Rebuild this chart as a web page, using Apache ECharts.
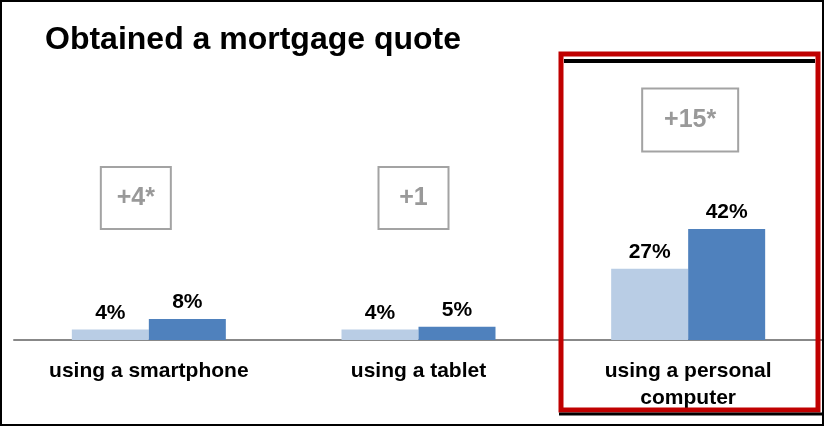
<!DOCTYPE html>
<html>
<head>
<meta charset="utf-8">
<script src="https://cdn.jsdelivr.net/npm/echarts@6/dist/echarts.min.js"></script>
<style>
  html, body { margin: 0; padding: 0; background: #fff; }
  #main { width: 825px; height: 429px; }
</style>
</head>
<body>
<div id="main"></div>
<script>
var categories = ['using a smartphone', 'using a tablet', 'using a personal\ncomputer'];
var before = [4, 4, 27];
var after = [8, 5, 42];
var diffs = ['+4*', '+1', '+15*'];
// height (in % units) where the difference boxes sit
var diffLevel = [53.8, 53.8, 83.3];

var chart = echarts.init(document.getElementById('main'));

var font = '"Liberation Sans", Arial, sans-serif';

var option = {
    animation: false,
    backgroundColor: '#fff',
    title: {
        text: 'Obtained a mortgage quote',
        left: 40,
        top: 19,
        textStyle: { fontFamily: font, fontSize: 32, fontWeight: 'bold', color: '#000' }
    },
    grid: { left: 14, right: 2, top: 76, bottom: 89 },
    xAxis: {
        type: 'category',
        data: categories,
        axisTick: { show: false },
        axisLine: { lineStyle: { color: '#888', width: 2 } },
        axisLabel: {
            fontFamily: font, fontSize: 21, fontWeight: 'bold', color: '#000',
            margin: 18, lineHeight: 27, interval: 0
        }
    },
    yAxis: {
        type: 'value', min: 0, max: 100,
        show: false, splitLine: { show: false }
    },
    series: [
        {
            type: 'bar',
            data: before,
            barWidth: 77,
            barGap: '0%',
            itemStyle: { color: '#B9CDE5' },
            label: {
                show: true, position: 'top', distance: 6, formatter: '{c}%',
                fontFamily: font, fontSize: 21, fontWeight: 'bold', color: '#000'
            }
        },
        {
            type: 'bar',
            data: after,
            barWidth: 77,
            barGap: '0%',
            itemStyle: { color: '#4F81BD' },
            label: {
                show: true, position: 'top', distance: 6, formatter: '{c}%',
                fontFamily: font, fontSize: 21, fontWeight: 'bold', color: '#000'
            }
        },
        {
            type: 'scatter',
            symbol: 'rect',
            symbolSize: 1,
            itemStyle: { color: 'rgba(0,0,0,0)' },
            silent: true,
            data: diffLevel.map(function (v, i) {
                var wide = diffs[i].length > 3;
                return {
                    value: [i, v],
                    label: {
                        offset: [[-13, 0], [-5, 0], [2, 0]][i],
                        width: wide ? 96 : 70,
                        height: wide ? 63 : 62,
                        lineHeight: wide ? 63 : 62
                    }
                };
            }),
            label: {
                show: true,
                position: 'inside',
                formatter: function (p) { return diffs[p.dataIndex]; },
                fontFamily: font, fontSize: 25, fontWeight: 'bold', color: '#7F7F7F',
                align: 'center', verticalAlign: 'middle',
                borderColor: '#8C8C8C', borderWidth: 2
            }
        }
    ],
    graphic: [
        {
            type: 'rect',
            shape: { x: 1, y: 1, width: 822, height: 424 },
            style: { fill: 'none', stroke: '#000', lineWidth: 2 },
            z: 100
        },
        {
            type: 'rect',
            shape: { x: 561, y: 54, width: 257, height: 356 },
            style: { fill: 'none', stroke: '#C00000', lineWidth: 5 },
            z: 101
        },
        {
            type: 'line',
            shape: { x1: 564, y1: 61, x2: 815, y2: 61 },
            style: { stroke: '#000', lineWidth: 4 },
            z: 101
        },
        {
            type: 'line',
            shape: { x1: 559, y1: 414, x2: 822, y2: 414 },
            style: { stroke: '#000', lineWidth: 3 },
            z: 101
        }
    ]
};

chart.setOption(option);
</script>
</body>
</html>
